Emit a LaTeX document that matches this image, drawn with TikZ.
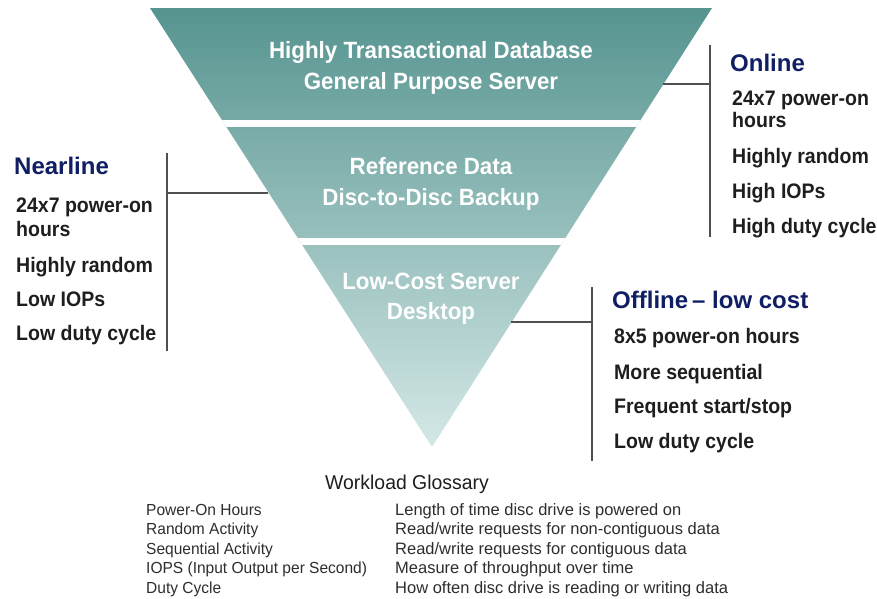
\documentclass[tikz,border=0pt]{standalone}
\usepackage{fontspec}
\setmainfont{Liberation Sans}
\newfontfamily\bandfont{Liberation Sans}[FakeStretch=0.95]
\newfontfamily\itemfont{Liberation Sans}[FakeStretch=0.93]
\newfontfamily\glossfont{Liberation Sans}[FakeStretch=0.97]
\definecolor{tealtop}{RGB}{86,148,144}
\definecolor{tealmid}{RGB}{128,176,172}
\definecolor{tealbot}{RGB}{212,232,230}
\definecolor{headnavy}{RGB}{16,30,100}
\definecolor{itemink}{RGB}{30,30,30}
\definecolor{glossink}{RGB}{45,45,45}
\definecolor{bracket}{RGB}{80,80,80}
\tikzset{
  bandtext/.style={text=white, font=\bandfont\bfseries\fontsize{23.5}{27}\selectfont, anchor=base, inner sep=0pt},
  headtext/.style={text=headnavy, font=\bfseries\fontsize{24}{28}\selectfont, anchor=base west, inner sep=0pt},
  itemtext/.style={text=itemink, font=\itemfont\bfseries\fontsize{21}{24}\selectfont, anchor=base west, inner sep=0pt},
  glosshead/.style={text=itemink, font=\glossfont\fontsize{20}{24}\selectfont, anchor=base, inner sep=0pt},
  glosstext/.style={text=glossink, font=\glossfont\fontsize{16}{19}\selectfont, anchor=base west, inner sep=0pt},
  glossdesc/.style={text=glossink, font=\fontsize{16.5}{19}\selectfont, anchor=base west, inner sep=0pt},
  bracketline/.style={draw=bracket, line width=1.4pt},
}
\begin{document}
\begin{tikzpicture}[x=1pt,y=-1pt]
\useasboundingbox (0,0) rectangle (877,598);

% inverted pyramid, one gradient split into three bands
\begin{scope}
  \clip (150,8) -- (712,8) -- (432,447) -- cycle;
  \shade[top color=tealtop, middle color=tealmid, bottom color=tealbot] (140,8) rectangle (720,447);
  \fill[white] (140,120) rectangle (720,127);
  \fill[white] (140,238) rectangle (720,245);
\end{scope}

% band labels
\node[bandtext] (b1a) at (431,58) {Highly Transactional Database};
\node[bandtext] (b1b) at (431,89) {General Purpose Server};
\node[bandtext] (b2a) at (431,174) {Reference Data};
\node[bandtext] (b2b) at (431,205) {Disc-to-Disc Backup};
\node[bandtext] (b3a) at (431,289) {Low-Cost Server};
\node[bandtext] (b3b) at (431,319) {Desktop};

% edge points of the pyramid where the brackets attach
\coordinate (eOn) at (663,84);
\coordinate (eNear) at (268,193);
\coordinate (eOff) at (511,322);

% Online bracket
\coordinate (onTop) at (710,45);
\coordinate (onBot) at (710,237);
\coordinate (onMid) at (710,84);
\draw[bracketline] (onTop) -- (onBot);
\draw[bracketline] (eOn) -- (onMid);
\node[headtext] (onH) at (730,71) {Online};
\node[itemtext] (on1) at (732,105) {24x7 power-on};
\node[itemtext] (on2) at (732,127) {hours};
\node[itemtext] (on3) at (732,163) {Highly random};
\node[itemtext] (on4) at (732,198) {High IOPs};
\node[itemtext] (on5) at (732,233) {High duty cycle};

% Nearline bracket
\coordinate (nearTop) at (167,153);
\coordinate (nearBot) at (167,351);
\coordinate (nearMid) at (167,193);
\draw[bracketline] (nearTop) -- (nearBot);
\draw[bracketline] (nearMid) -- (eNear);
\node[headtext] (nearH) at (14,174) {Nearline};
\node[itemtext] (near1) at (16,212) {24x7 power-on};
\node[itemtext] (near2) at (16,236) {hours};
\node[itemtext] (near3) at (16,272) {Highly random};
\node[itemtext] (near4) at (16,306) {Low IOPs};
\node[itemtext] (near5) at (16,340) {Low duty cycle};

% Offline bracket
\coordinate (offTop) at (592,287);
\coordinate (offBot) at (592,461);
\coordinate (offMid) at (592,322);
\draw[bracketline] (offTop) -- (offBot);
\draw[bracketline] (eOff) -- (offMid);
\node[headtext] (offH) at (612,308) {Offline\,– low cost};
\node[itemtext] (off1) at (614,343) {8x5 power-on hours};
\node[itemtext] (off2) at (614,379) {More sequential};
\node[itemtext] (off3) at (614,413) {Frequent start/stop};
\node[itemtext] (off4) at (614,448) {Low duty cycle};

% glossary
\node[glosshead] (gh) at (407,489) {Workload Glossary};
\node[glosstext] (g1t) at (146,515) {Power-On Hours};
\node[glosstext] (g2t) at (146,534) {Random Activity};
\node[glosstext] (g3t) at (146,554) {Sequential Activity};
\node[glosstext] (g4t) at (146,573) {IOPS (Input Output per Second)};
\node[glosstext] (g5t) at (146,593) {Duty Cycle};
\node[glossdesc] (g1d) at (395,515) {Length of time disc drive is powered on};
\node[glossdesc] (g2d) at (395,534) {Read/write requests for non-contiguous data};
\node[glossdesc] (g3d) at (395,554) {Read/write requests for contiguous data};
\node[glossdesc] (g4d) at (395,573) {Measure of throughput over time};
\node[glossdesc] (g5d) at (395,593) {How often disc drive is reading or writing data};
\end{tikzpicture}
\end{document}
